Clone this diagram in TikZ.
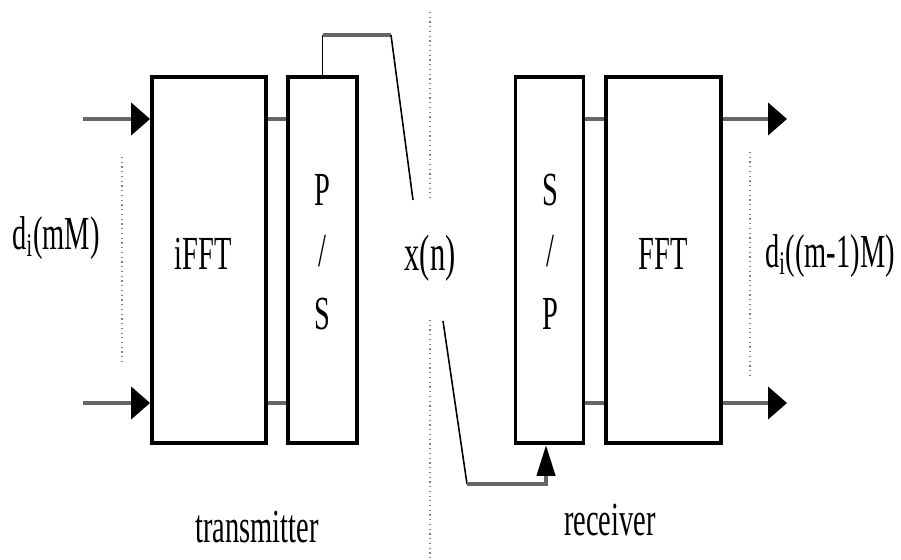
\documentclass[tikz,border=0pt]{standalone}
\usepackage{fontspec}
\setmainfont{Liberation Serif}[FakeStretch=0.6]
\usetikzlibrary{arrows.meta,positioning}

\begin{document}
\begin{tikzpicture}[x=0.02cm, y=-0.02cm,
    blk/.style={draw, line width=2.2pt, minimum height=7.32cm, inner sep=0pt},
    bus/.style={draw=black!60, line width=2.4pt},
    wire/.style={draw, line width=0.9pt},
    guide/.style={draw=gray, dotted, line width=0.7pt},
    lbl/.style={font=\fontsize{27}{30}\selectfont, inner sep=0pt}]
    \useasboundingbox (0,0) rectangle (901,560);

    % 1. Blocchi (trasmettitore e ricevitore)
    \node[blk, minimum width=2.28cm] (ifft) at (209,260) {};
    \node[blk, minimum width=1.38cm] (ps) at (322.5,260) {};
    \node[blk, minimum width=1.36cm] (sp) at (549.5,260) {};
    \node[blk, minimum width=2.30cm] (fft) at (663.5,260) {};

    % 2. Testi dentro i blocchi
    \node[lbl] (tifft) at (203,254) {iFFT};
    \node[lbl] (tp1) at (322,190) {P};
    \node[lbl] (tps) at (322,251) {/};
    \node[lbl] (ts1) at (322,314) {S};
    \node[lbl] (ts2) at (550,190) {S};
    \node[lbl] (tsp) at (550,251) {/};
    \node[lbl] (tp2) at (550,314) {P};
    \node[lbl] (tfft) at (663,254) {FFT};

    % 3. Ingressi
    \coordinate (in1) at (83,119);
    \coordinate (in2) at (83,403);
    \draw[bus, -{Triangle[length=0.38cm, width=0.64cm, color=black]}] (in1) -- (in1 -| ifft.west);
    \draw[bus, -{Triangle[length=0.38cm, width=0.64cm, color=black]}] (in2) -- (in2 -| ifft.west);
    \draw[guide] (122,157) -- (122,363);
    \node[lbl] (din) at (56,238) {d\textsubscript{i}(mM)};

    % 4. Collegamenti iFFT -> P/S
    \draw[bus] (ifft.east |- in1) -- (ps.west |- in1);
    \draw[bus] (ifft.east |- in2) -- (ps.west |- in2);

    % 5. Canale x(n)
    \coordinate (tx) at (391,35);
    \coordinate (txend) at (413,200);
    \draw[wire] (ps.north) -- (ps.north |- tx);
    \draw[bus] (ps.north |- tx) -- (tx);
    \draw[wire] (tx) -- (txend);
    \draw[guide] (430,12) -- (430,200);
    \draw[guide] (430,320) -- (430,560);
    \node[lbl, font=\fontsize{29}{32}\selectfont] (xn) at (430,258) {x(n)};
    \coordinate (rxstart) at (443,321);
    \coordinate (rxc) at (467,484);
    \coordinate (rxd) at (546,484);
    \draw[wire] (rxstart) -- (rxc);
    \draw[bus, -{Triangle[length=0.62cm, width=0.36cm, color=black]}] (rxc) -- (rxd) -- (rxd |- sp.south);

    % 6. Collegamenti S/P -> FFT
    \draw[bus] (sp.east |- in1) -- (fft.west |- in1);
    \draw[bus] (sp.east |- in2) -- (fft.west |- in2);

    % 7. Uscite
    \coordinate (out1) at (787,119);
    \coordinate (out2) at (787,403);
    \draw[bus, -{Triangle[length=0.38cm, width=0.64cm, color=black]}] (fft.east |- out1) -- (out1);
    \draw[bus, -{Triangle[length=0.38cm, width=0.64cm, color=black]}] (fft.east |- out2) -- (out2);
    \draw[guide] (750,152) -- (750,375);
    \node[lbl] (dout) at (830,256) {d\textsubscript{i}((m-1)M)};

    % 8. Didascalie
    \node[lbl] (ttx) at (257,527) {transmitter};
    \node[lbl] (trx) at (610,520) {receiver};

\end{tikzpicture}
\end{document}
